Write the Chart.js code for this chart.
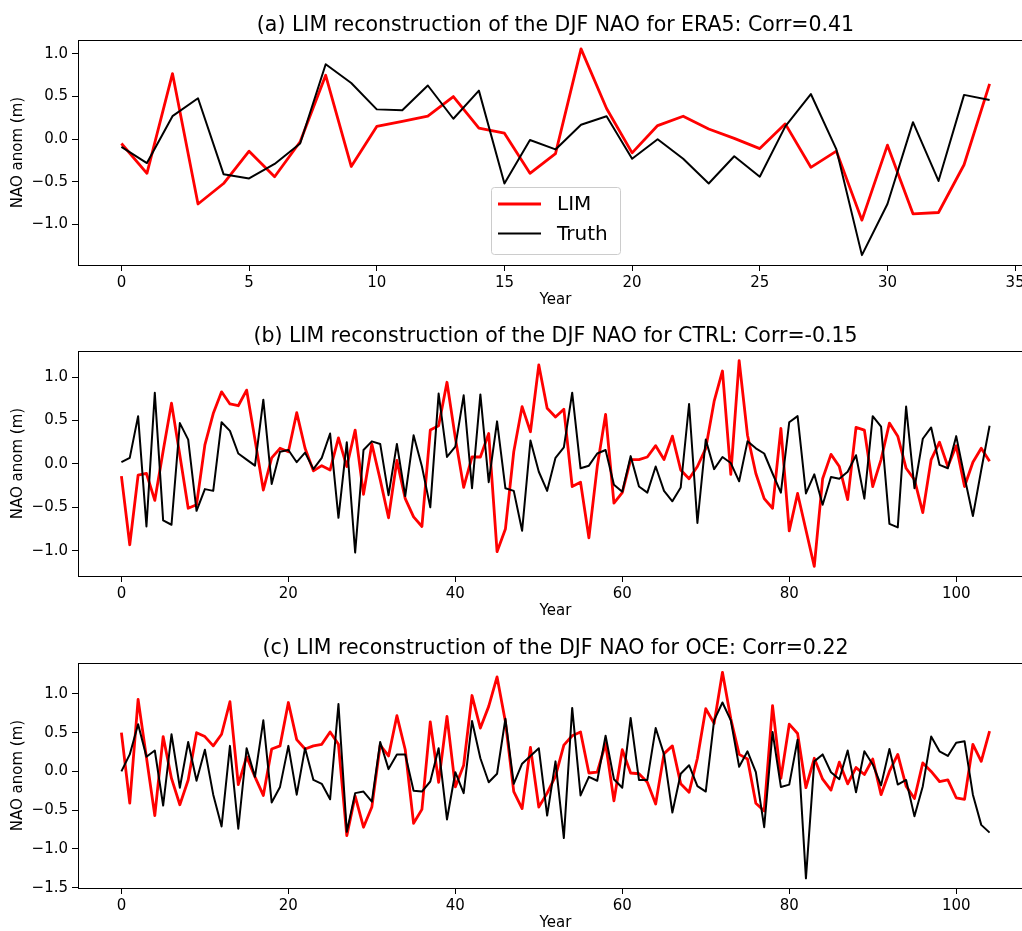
<!DOCTYPE html>
<html>
<head>
<meta charset="utf-8">
<script src="https://cdn.jsdelivr.net/npm/chart.js@4.4.1/dist/chart.umd.min.js"></script>
<style>
    html, body { margin: 0; padding: 0; background: #fff; }
    body { width: 1022px; height: 931px; overflow: hidden; position: relative; }
    canvas { position: absolute; left: 0; }
</style>
</head>
<body>
<canvas id="chart-a" width="1040" height="311" style="top:0px"></canvas>
<canvas id="chart-b" width="1040" height="311" style="top:311px"></canvas>
<canvas id="chart-c" width="1040" height="311" style="top:623px"></canvas>
<script>
// Years (x categories)
const yearsA = [0,1,2,3,4,5,6,7,8,9,10,11,12,13,14,15,16,17,18,19,20,21,22,23,24,25,26,27,28,29,30,31,32,33,34];
const yearsBC = Array.from({length: 105}, (_, i) => i);

// (a) ERA5
const limA = [-0.05,-0.40,0.77,-0.76,-0.52,-0.14,-0.44,-0.03,0.75,-0.32,0.15,0.21,0.27,0.50,0.13,0.07,-0.40,-0.17,1.06,0.36,
    -0.16,0.16,0.27,0.12,0.01,-0.11,0.18,-0.33,-0.14,-0.95,-0.07,-0.875,-0.86,-0.30,0.65];
const truthA = [-0.09,-0.28,0.27,0.48,-0.41,-0.46,-0.29,-0.05,0.88,0.66,0.35,0.34,0.63,0.24,0.57,-0.52,-0.01,-0.12,0.17,0.27,
    -0.23,0.00,-0.23,-0.52,-0.20,-0.44,0.15,0.53,-0.12,-1.36,-0.76,0.20,-0.49,0.52,0.46];

// (b) CTRL
const limB = [-0.14,-0.93,-0.13,-0.11,-0.42,0.15,0.70,0.10,-0.51,-0.47,0.22,0.58,0.83,0.69,0.67,0.85,0.28,-0.30,0.07,0.18,
    0.14,0.59,0.18,-0.08,-0.02,-0.07,0.30,-0.03,0.39,-0.35,0.23,-0.18,-0.62,0.04,-0.40,-0.61,-0.72,0.39,0.44,0.94,
    0.30,-0.27,0.08,0.08,0.35,-1.01,-0.75,0.14,0.66,0.37,1.14,0.64,0.54,0.63,-0.26,-0.21,-0.85,-0.03,0.57,-0.45,
    -0.33,0.05,0.05,0.08,0.21,0.05,0.32,-0.07,-0.17,-0.03,0.18,0.72,1.07,-0.12,1.19,0.33,-0.11,-0.40,-0.51,0.41,
    -0.77,-0.34,-0.76,-1.18,-0.17,0.11,-0.03,-0.41,0.42,0.39,-0.26,0.05,0.47,0.32,-0.05,-0.18,-0.56,0.05,0.25,-0.03,
    0.21,-0.26,0.02,0.18,0.03];
const truthB = [0.02,0.07,0.55,-0.72,0.82,-0.65,-0.70,0.47,0.28,-0.54,-0.29,-0.31,0.48,0.38,0.12,0.05,-0.02,0.74,-0.23,0.14,
    0.16,0.02,0.13,-0.06,0.07,0.35,-0.62,0.25,-1.02,0.16,0.26,0.23,-0.36,0.23,-0.37,0.33,-0.03,-0.50,0.81,0.08,
    0.20,0.79,-0.28,0.80,-0.21,0.49,-0.28,-0.31,-0.77,0.27,-0.09,-0.31,0.07,0.19,0.82,-0.05,-0.02,0.12,0.16,-0.24,
    -0.32,0.09,-0.26,-0.33,-0.03,-0.31,-0.43,-0.27,0.69,-0.68,0.28,-0.06,0.08,0.01,-0.20,0.26,0.18,0.12,-0.11,-0.33,
    0.48,0.55,-0.34,-0.12,-0.47,-0.15,-0.17,-0.09,0.10,-0.40,0.55,0.43,-0.69,-0.73,0.66,-0.28,0.29,0.42,-0.01,-0.05,
    0.32,-0.15,-0.60,-0.07,0.44];

// (c) OCE
const limC = [0.50,-0.41,0.93,0.18,-0.57,0.45,-0.09,-0.43,-0.11,0.50,0.45,0.33,0.48,0.90,-0.17,0.19,-0.07,-0.31,0.29,0.33,
    0.89,0.41,0.29,0.33,0.35,0.51,0.35,-0.83,-0.32,-0.72,-0.46,0.34,0.20,0.72,0.28,-0.67,-0.49,0.64,-0.14,0.71,
    -0.20,0.08,0.98,0.56,0.84,1.22,0.64,-0.26,-0.48,0.31,-0.46,-0.28,-0.06,0.34,0.46,0.51,-0.02,-0.01,0.36,-0.38,
    0.28,-0.02,-0.03,-0.14,-0.42,0.23,0.33,-0.16,-0.27,0.17,0.81,0.62,1.28,0.68,0.22,0.16,-0.41,-0.51,0.85,-0.09,
    0.61,0.49,-0.21,0.17,-0.10,-0.24,0.12,-0.16,0.05,-0.04,0.16,-0.30,0.00,0.22,-0.19,-0.35,0.11,0.00,-0.13,-0.11,
    -0.34,-0.36,0.35,0.13,0.52];
const truthC = [0.00,0.22,0.61,0.19,0.27,-0.44,0.48,-0.21,0.38,-0.12,0.28,-0.30,-0.71,0.33,-0.74,0.30,-0.07,0.66,-0.40,-0.20,
    0.33,-0.30,0.30,-0.11,-0.16,-0.36,0.87,-0.78,-0.28,-0.26,-0.39,0.38,0.03,0.22,0.22,-0.25,-0.26,-0.13,0.30,-0.62,
    -0.01,-0.28,0.65,0.17,-0.14,-0.03,0.68,-0.16,0.10,0.20,0.30,-0.57,0.13,-0.86,0.82,-0.31,-0.07,-0.12,0.46,-0.10,
    -0.21,0.69,-0.11,-0.11,0.56,0.22,-0.53,-0.03,0.08,-0.19,-0.26,0.66,0.89,0.66,0.06,0.26,-0.01,-0.72,0.51,-0.20,
    -0.17,0.41,-1.38,0.13,0.22,-0.01,-0.10,0.27,-0.27,0.26,0.09,-0.18,0.29,-0.17,-0.11,-0.58,-0.19,0.45,0.26,0.20,
    0.37,0.39,-0.30,-0.69,-0.79];

const titles = [
    '(a) LIM reconstruction of the DJF NAO for ERA5: Corr=0.41',
    '(b) LIM reconstruction of the DJF NAO for CTRL: Corr=-0.15',
    '(c) LIM reconstruction of the DJF NAO for OCE: Corr=0.22'
];

Chart.defaults.font.family = '"DejaVu Sans", sans-serif';
Chart.defaults.color = '#000';

// frame (all four spines) + panel title
const framePlugin = {
    id: 'frame',
    afterDraw(chart, args, opts) {
        const {ctx, chartArea: a} = chart;
        ctx.save();
        ctx.strokeStyle = '#000';
        ctx.lineWidth = 1;
        ctx.strokeRect(Math.round(a.left) + 0.5, Math.round(a.top) + 0.5,
            Math.round(a.right - a.left), Math.round(a.bottom - a.top));
        ctx.fillStyle = '#000';
        ctx.font = '20.5px "DejaVu Sans"';
        ctx.textAlign = 'center';
        ctx.textBaseline = 'alphabetic';
        ctx.fillText(opts.text, (a.left + a.right) / 2, a.top - 9);
        ctx.restore();
    }
};

// legend box drawn inside the first panel
const boxLegend = {
    id: 'boxLegend',
    afterDraw(chart, args, opts) {
        if (!opts.show) return;
        const ctx = chart.ctx;
        const x0 = 491, y0 = 187, w = 129, h = 67;
        ctx.save();
        ctx.fillStyle = 'rgba(255,255,255,0.8)';
        ctx.strokeStyle = '#cccccc';
        ctx.lineWidth = 1;
        ctx.beginPath();
        ctx.roundRect(x0 + 0.5, y0 + 0.5, w, h, 3);
        ctx.fill();
        ctx.stroke();
        const items = chart.data.datasets;
        items.forEach((ds, i) => {
            const yy = 204 + i * 29.5;
            ctx.strokeStyle = ds.borderColor;
            ctx.lineWidth = ds.borderWidth;
            ctx.beginPath();
            ctx.moveTo(498, yy);
            ctx.lineTo(541, yy);
            ctx.stroke();
            ctx.fillStyle = '#000';
            ctx.font = '20px "DejaVu Sans"';
            ctx.textBaseline = 'middle';
            ctx.textAlign = 'left';
            ctx.fillText(ds.label, 557, yy + 1);
        });
        ctx.restore();
    }
};

function yLabel(v) {
    const s = Math.abs(v).toFixed(1);
    return v < -1e-9 ? '\u2212' + s : s;
}

function makeChart(id, title, years, lim, truth, xMin, xMax, xStep, yMin, yMax, legend) {
    const ctx = document.getElementById(id).getContext('2d');
    return new Chart(ctx, {
        type: 'line',
        data: {
            datasets: [{
                label: 'LIM',
                data: years.map((x, i) => ({x: x, y: lim[i]})),
                borderColor: '#ff0000',
                borderWidth: 2.8,
                order: 2
            }, {
                label: 'Truth',
                data: years.map((x, i) => ({x: x, y: truth[i]})),
                borderColor: '#000000',
                borderWidth: 2,
                order: 1
            }]
        },
        options: {
            responsive: false,
            animation: false,
            devicePixelRatio: 1,
            layout: {padding: {top: 40, left: 0, right: 7, bottom: 0}},
            elements: {
                point: {radius: 0},
                line: {tension: 0, borderJoinStyle: 'round', fill: false}
            },
            plugins: {
                legend: {display: false},
                tooltip: {enabled: false},
                frame: {text: title},
                boxLegend: {show: legend}
            },
            scales: {
                x: {
                    type: 'linear',
                    min: xMin,
                    max: xMax,
                    afterFit: s => { s.height = 46; },
                    border: {display: false},
                    grid: {drawOnChartArea: false, drawTicks: true, tickLength: 6, color: '#000', tickColor: '#000'},
                    ticks: {stepSize: xStep, includeBounds: false, maxRotation: 0, autoSkip: false,
                        padding: 3, font: {size: 15}, color: '#000', callback: v => String(v)},
                    title: {display: true, text: 'Year', font: {size: 15}, color: '#000', padding: {top: 0, bottom: 2}}
                },
                y: {
                    min: yMin,
                    max: yMax,
                    afterFit: s => { s.width = 78; },
                    border: {display: false},
                    grid: {drawOnChartArea: false, drawTicks: true, tickLength: 6, color: '#000', tickColor: '#000'},
                    ticks: {stepSize: 0.5, includeBounds: false, padding: 4, font: {size: 15}, color: '#000', callback: yLabel},
                    title: {display: true, text: 'NAO anom (m)', font: {size: 15}, color: '#000', padding: {top: 9.5, bottom: 0}}
                }
            }
        },
        plugins: [framePlugin, boxLegend]
    });
}

makeChart('chart-a', titles[0], yearsA, limA, truthA, -1.7, 35.7, 5, -1.476, 1.164, true);
makeChart('chart-b', titles[1], yearsBC, limB, truthB, -5.2, 109.2, 20, -1.29, 1.30, false);
makeChart('chart-c', titles[2], yearsBC, limC, truthC, -5.2, 109.2, 20, -1.505, 1.40, false);
</script>
</body>
</html>
